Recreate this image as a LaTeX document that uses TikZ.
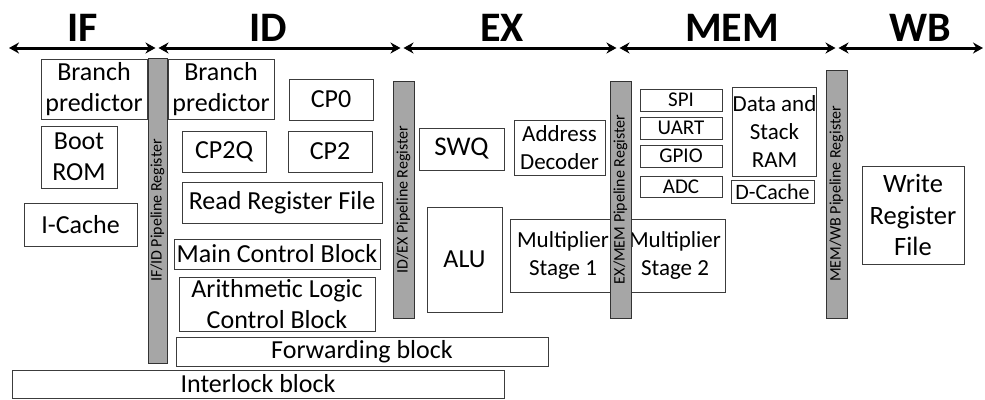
\documentclass[tikz,border=0pt]{standalone}
\usepackage{fontspec}
\setmainfont{Carlito}
\usetikzlibrary{arrows.meta}
\definecolor{regfill}{RGB}{166,166,166}
\definecolor{boxline}{RGB}{60,60,60}
\tikzset{
  blk/.style={draw=boxline, line width=1pt, fill=white, inner sep=0pt, align=center},
  regbar/.style={draw=black!80, line width=1pt, fill=regfill, inner sep=0pt},
  stagearrow/.style={line width=3pt, {Stealth[length=10pt,width=11pt]}-{Stealth[length=10pt,width=11pt]}},
  stagehead/.style={font=\fontsize{42}{42}\selectfont\bfseries, anchor=base, inner sep=0pt},
  regtext/.style={font=\fontsize{16}{16}\selectfont, rotate=90, inner sep=0pt}
}
\newcommand\blkbox[7]{%
  \node[blk, font=\fontsize{#7}{1.2\dimexpr #7pt\relax}\selectfont, minimum width={(#4-#2)*1pt}, minimum height={(#5-#3)*1pt}]
    (#1) at ({(#2+#4)/2},{(#3+#5)/2}) {#6};}
\newcommand\regbar[6]{%
  \node[regbar, minimum width={(#4-#2)*1pt}, minimum height={(#5-#3)*1pt}]
    (#1) at ({(#2+#4)/2},{(#3+#5)/2}) {};
  \node[regtext] (#1t) at (#1.center) {#6};}
\begin{document}
\begin{tikzpicture}[x=1pt,y=-1pt]
\useasboundingbox (0,0) rectangle (985,399);
% stage arrows
\coordinate (b0) at (9,48);
\coordinate (b1a) at (155.5,48);
\coordinate (b1b) at (158.5,48);
\coordinate (b2a) at (400.5,48);
\coordinate (b2b) at (403.5,48);
\coordinate (b3a) at (616.5,48);
\coordinate (b3b) at (619.5,48);
\coordinate (b4a) at (835.5,48);
\coordinate (b4b) at (838.5,48);
\coordinate (b5) at (983,48);
\draw[stagearrow] (b0) -- (b1a);
\draw[stagearrow] (b1b) -- (b2a);
\draw[stagearrow] (b2b) -- (b3a);
\draw[stagearrow] (b3b) -- (b4a);
\draw[stagearrow] (b4b) -- (b5);
\node[stagehead] (hIF) at (83,41) {IF};
\node[stagehead] (hID) at (268,41) {ID};
\node[stagehead] (hEX) at (502,41) {EX};
\node[stagehead] (hMEM) at (732,41) {MEM};
\node[stagehead] (hWB) at (920,41) {WB};
% IF
\blkbox{bpIF}{41}{59}{147}{119}{Branch\\predictor}{26}
\blkbox{boot}{41}{126}{117}{188}{Boot\\ROM}{26}
\blkbox{icache}{24}{203}{137}{246}{I-Cache}{26}
% ID
\blkbox{bpID}{168}{59}{274}{119}{Branch\\predictor}{26}
\blkbox{cpz}{289}{79}{373}{120}{CP0}{26}
\blkbox{cptq}{182}{131}{266}{172}{CP2Q}{26}
\blkbox{cpt}{288}{131}{372}{172}{CP2}{26}
\blkbox{rrf}{182}{182}{382}{223}{Read Register File}{26}
\blkbox{mcb}{174}{239}{380}{269}{Main Control Block}{26}
\blkbox{alcb}{179}{277}{375}{331}{Arithmetic Logic\\Control Block}{26}
\blkbox{fwd}{176}{337}{548}{366}{Forwarding block}{26}
\blkbox{intl}{12}{370}{504}{398}{Interlock block}{26}
% EX
\blkbox{swq}{419}{128}{504}{170}{SWQ}{27}
\blkbox{addr}{514}{120}{605}{175}{Address\\Decoder}{23}
\blkbox{alu}{427}{207}{502}{312}{ALU}{26}
\blkbox{mulA}{510}{219}{616}{292}{Multiplier\\Stage 1}{23}
% MEM
\blkbox{spi}{640}{89}{722}{111}{SPI}{21}
\blkbox{uart}{640}{117}{722}{139}{UART}{21}
\blkbox{gpio}{640}{145}{722}{167}{GPIO}{21}
\blkbox{adc}{640}{176}{722}{197}{ADC}{21}
\blkbox{dsr}{733}{87}{816}{176}{Data and\\Stack\\RAM}{23}
\blkbox{dcache}{731}{180}{814}{203}{D-Cache}{22}
\blkbox{mulB}{625}{219}{725}{292}{Multiplier\\Stage 2}{23}
% WB
\blkbox{wrf}{862}{166}{964}{264}{Write\\Register\\File}{26.5}
% pipeline registers
\regbar{ifid}{148}{58}{167}{363}{IF/ID Pipeline Register}
\regbar{idex}{393}{81}{414}{318}{ID/EX Pipeline Register}
\regbar{exmem}{610}{81}{631}{318}{EX/MEM Pipeline Register}
\regbar{memwb}{826}{70}{847}{318}{MEM/WB Pipeline Register}
\end{tikzpicture}
\end{document}
